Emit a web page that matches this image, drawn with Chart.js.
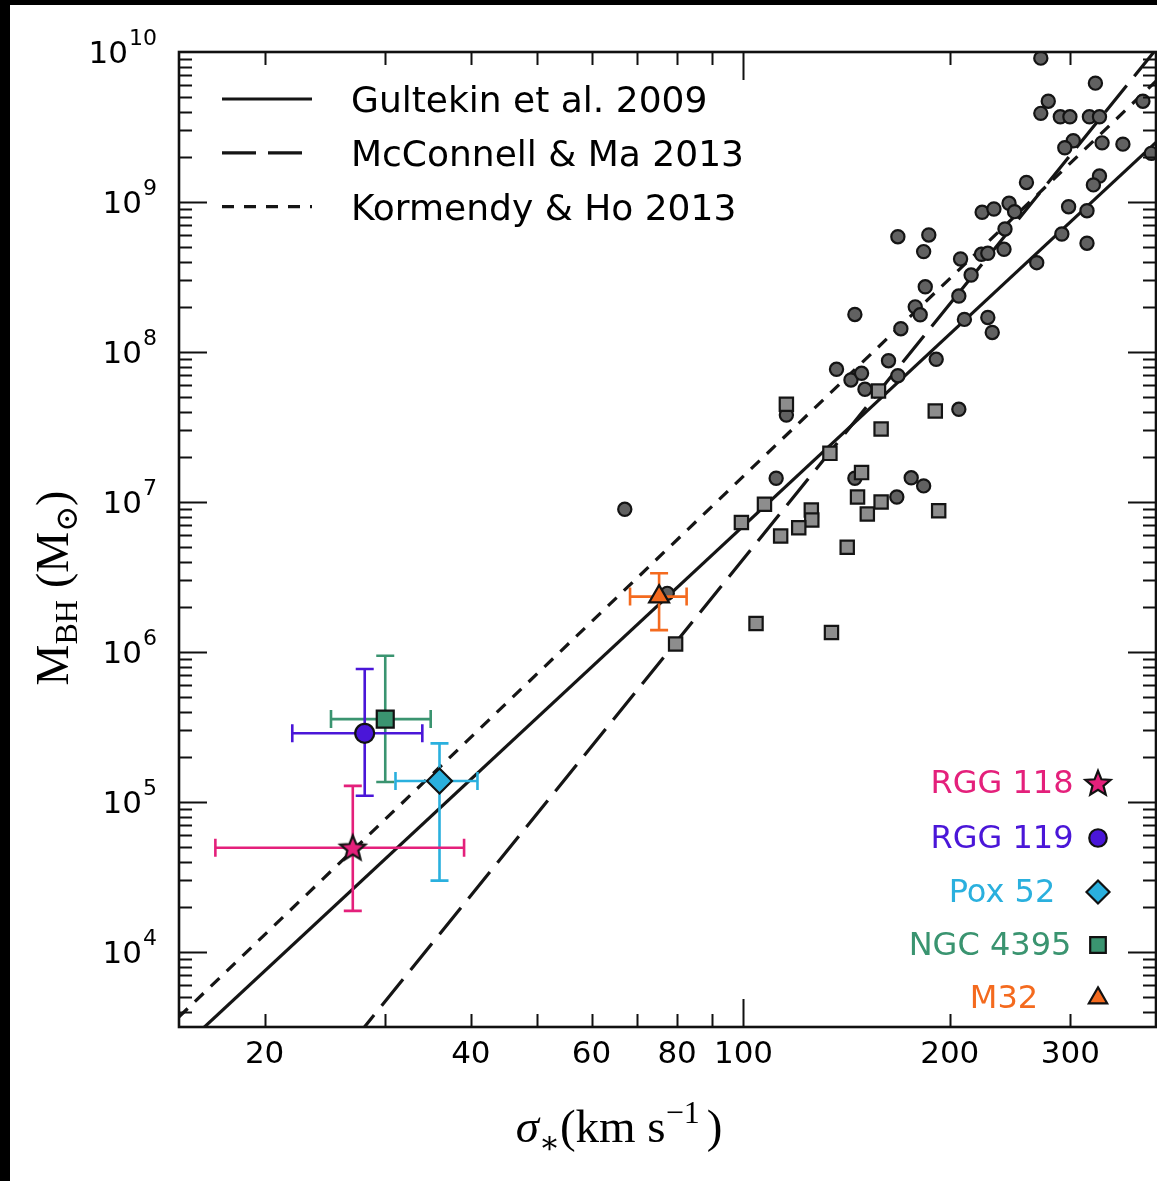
<!DOCTYPE html>
<html>
<head>
<meta charset="utf-8">
<script src="https://cdn.jsdelivr.net/npm/chart.js@4.4.1/dist/chart.umd.min.js"></script>
<style>
  html, body { margin: 0; padding: 0; background: #fff; }
</style>
</head>
<body>
<canvas id="msigma" width="1157" height="1181"></canvas>
<script>
// velocity dispersion (km/s) and black hole mass (Msun) of the comparison sample
const circleSigma = [271.6, 326.3, 278.5, 271.6, 290.0, 299.5, 319.8, 330.8, 382.8, 302.9,
  294.4, 333.7, 357.9, 393.7, 258.8, 330.8, 324.1, 298.2, 317.2, 223.0,
  232.0, 244.1, 248.7, 240.8, 291.5, 317.2, 168.0, 186.4, 183.2, 222.5,
  227.3, 240.0, 207.4, 214.9, 267.9, 184.2, 206.2, 178.1, 181.1, 145.4,
  169.7, 210.1, 227.3, 230.7, 162.8, 191.1, 136.7, 143.5, 148.7, 150.4,
  168.0, 206.2, 115.5, 111.6, 145.4, 175.7, 183.2, 167.4, 67.1, 77.4];
const circleMass = [9.1e9, 6.2e9, 4.7e9, 3.9e9, 3.7e9, 3.7e9, 3.7e9, 3.7e9, 4.7e9, 2.56e9,
  2.3e9, 2.48e9, 2.43e9, 2.11e9, 1.35e9, 1.49e9, 1.3e9, 9.3e8, 8.75e8, 8.54e8,
  8.98e8, 9.8e8, 8.62e8, 6.61e8, 6.12e8, 5.31e8, 5.87e8, 6.03e8, 4.67e8, 4.48e8,
  4.55e8, 4.84e8, 4.17e8, 3.26e8, 3.94e8, 2.72e8, 2.36e8, 2.0e8, 1.77e8, 1.78e8,
  1.43e8, 1.65e8, 1.7e8, 1.35e8, 8.75e7, 8.94e7, 7.67e7, 6.51e7, 7.21e7, 5.64e7,
  6.95e7, 4.15e7, 3.8e7, 1.44e7, 1.44e7, 1.45e7, 1.28e7, 1.08e7, 8.94e6, 2.46e6];

const squareSigma = [157.4, 190.5, 158.8, 115.5, 133.7, 107.3, 99.3, 148.7, 146.7, 158.8,
  151.6, 192.7, 125.6, 125.8, 120.4, 113.3, 141.7, 104.3, 134.4, 79.6];
const squareMass = [5.5e7, 4.04e7, 3.07e7, 4.48e7, 2.11e7, 9.66e6, 7.3e6, 1.57e7, 1.08e7, 1.0e7,
  8.32e6, 8.75e6, 8.85e6, 7.59e6, 6.74e6, 5.93e6, 4.99e6, 1.55e6, 1.35e6, 1.13e6];

// scaling relations, end points
const relNames = ['Gultekin et al. 2009', 'McConnell & Ma 2013', 'Kormendy & Ho 2013'];
const relSigma = [15, 400];
const gultekinMass = [2.2e3, 2.5e9];
const mcconnellMass = [9.4e1, 1.04e10];
const kormendyMass = [3.7e3, 6.4e9];

// dwarf galaxies with error bars
const objNames = ['RGG 118', 'RGG 119', 'Pox 52', 'NGC 4395', 'M32'];
const objSigma = [26.9, 28.0, 36.0, 30.0, 75.3];
const objSigmaLo = [16.95, 21.95, 31.05, 25.0, 68.3];
const objSigmaHi = [39.1, 33.98, 40.9, 34.95, 82.6];
const objMass = [4.96e4, 2.87e5, 1.38e5, 3.57e5, 2.34e6];
const objMassLo = [1.88e4, 1.10e5, 2.99e4, 1.36e5, 1.40e6];
const objMassHi = [1.28e5, 7.7e5, 2.46e5, 9.45e5, 3.35e6];
const objColors = ['#e4207b', '#4a16d8', '#2ab0de', '#3a9470', '#f46a1e'];

// axis ticks
const xTickLabels = [20, 40, 60, 80, 100, 200, 300];
const xMinorTicks = [20, 30, 40, 50, 60, 70, 80, 90, 200, 300, 400];
const xMajorTicks = [100];
const yTickExps = [4, 5, 6, 7, 8, 9, 10];

Chart.defaults.font.family = '"DejaVu Sans", sans-serif';

function makeStar(fill) {
  const c = document.createElement('canvas');
  c.width = 32; c.height = 32;
  const g = c.getContext('2d');
  g.beginPath();
  for (let k = 0; k < 10; k++) {
    const r = k % 2 ? 5.8 : 13.2;
    const a = -Math.PI / 2 + k * Math.PI / 5;
    g.lineTo(16 + r * Math.cos(a), 17 + r * Math.sin(a));
  }
  g.closePath();
  g.fillStyle = fill;
  g.fill();
  g.lineWidth = 2.2;
  g.strokeStyle = '#111';
  g.stroke();
  return c;
}

const objStyles = [
  { pointStyle: makeStar(objColors[0]), radius: 13 },
  { pointStyle: 'circle', radius: 9.5 },
  { pointStyle: 'rectRot', radius: 12.5 },
  { pointStyle: 'rect', radius: 12 },
  { pointStyle: 'triangle', radius: 11.5 }
];
const objOrder = [2, 3, 5, 6, 4];

function toPoints(xs, ys) {
  return xs.map((v, i) => ({ x: v, y: ys[i] }));
}

const datasets = [
  { label: relNames[0], data: toPoints(relSigma, gultekinMass), showLine: true, borderColor: '#151515',
    borderWidth: 3.2, pointRadius: 0, borderDash: [], order: 10, clip: 0 },
  { label: relNames[1], data: toPoints(relSigma, mcconnellMass), showLine: true, borderColor: '#151515',
    borderWidth: 3.2, pointRadius: 0, borderDash: [34, 12], order: 10, clip: 0 },
  { label: relNames[2], data: toPoints(relSigma, kormendyMass), showLine: true, borderColor: '#151515',
    borderWidth: 3.2, pointRadius: 0, borderDash: [12, 10], order: 10, clip: 0 },
  { label: 'circles', data: toPoints(circleSigma, circleMass), pointStyle: 'circle', pointRadius: 6.6,
    pointBackgroundColor: '#616161', pointBorderColor: '#141414', pointBorderWidth: 2.2, order: 8, clip: 0 },
  { label: 'squares', data: toPoints(squareSigma, squareMass), pointStyle: 'rect', pointRadius: 9.4,
    pointBackgroundColor: '#8d8d8d', pointBorderColor: '#141414', pointBorderWidth: 2.2, order: 7, clip: 0 }
];
objNames.forEach((name, i) => {
  datasets.push({
    label: name, objIndex: i,
    data: [{ x: objSigma[i], y: objMass[i] }],
    pointStyle: objStyles[i].pointStyle, pointRadius: objStyles[i].radius,
    pointBackgroundColor: objColors[i], pointBorderColor: '#111', pointBorderWidth: 2.2,
    order: objOrder[i], clip: false
  });
});

function drawPieces(ctx, pieces, cx, baseY) {
  let total = 0;
  pieces.forEach(p => { ctx.font = p.font; p.w = ctx.measureText(p.t).width + (p.gap || 0); total += p.w; });
  let x = cx - total / 2;
  pieces.forEach(p => {
    ctx.font = p.font;
    ctx.fillText(p.t, x, baseY + (p.dy || 0));
    x += p.w;
  });
}

const frame = {
  id: 'frame',
  beforeDraw(chart) {
    const ctx = chart.ctx;
    ctx.save();
    ctx.fillStyle = '#fff';
    ctx.fillRect(0, 0, chart.width, chart.height);
    ctx.fillStyle = '#000';
    ctx.fillRect(0, 0, 10, chart.height);
    ctx.fillRect(0, 0, chart.width, 5);
    ctx.restore();
  },
  beforeDatasetDraw(chart, args) {
    const ds = chart.data.datasets[args.index];
    if (ds.objIndex === undefined) return;
    const i = ds.objIndex;
    const xs = chart.scales.x, ys = chart.scales.y, ctx = chart.ctx;
    const cx = xs.getPixelForValue(objSigma[i]), cy = ys.getPixelForValue(objMass[i]);
    const x0 = xs.getPixelForValue(objSigmaLo[i]), x1 = xs.getPixelForValue(objSigmaHi[i]);
    const y0 = ys.getPixelForValue(objMassLo[i]), y1 = ys.getPixelForValue(objMassHi[i]);
    const cap = 9;
    ctx.save();
    ctx.strokeStyle = objColors[i];
    ctx.lineWidth = 2.6;
    ctx.beginPath();
    ctx.moveTo(x0, cy); ctx.lineTo(x1, cy);
    ctx.moveTo(cx, y0); ctx.lineTo(cx, y1);
    ctx.moveTo(x0, cy - cap); ctx.lineTo(x0, cy + cap);
    ctx.moveTo(x1, cy - cap); ctx.lineTo(x1, cy + cap);
    ctx.moveTo(cx - cap, y0); ctx.lineTo(cx + cap, y0);
    ctx.moveTo(cx - cap, y1); ctx.lineTo(cx + cap, y1);
    ctx.stroke();
    ctx.restore();
  },
  afterDraw(chart) {
    const ctx = chart.ctx;
    const { left, right, top, bottom } = chart.chartArea;
    const xs = chart.scales.x, ys = chart.scales.y;
    ctx.save();

    // tick marks on all four sides, pointing inwards
    ctx.strokeStyle = '#111';
    ctx.lineWidth = 2;
    ctx.beginPath();
    const vTick = (v, len) => {
      const px = Math.round(xs.getPixelForValue(v)) + 0.5;
      ctx.moveTo(px, bottom); ctx.lineTo(px, bottom - len);
      ctx.moveTo(px, top); ctx.lineTo(px, top + len);
    };
    xMinorTicks.forEach(v => vTick(v, 13));
    xMajorTicks.forEach(v => vTick(v, 28));
    for (let e = 3; e <= 9; e++) {
      for (let k = 1; k <= 9; k++) {
        const v = k * Math.pow(10, e);
        if (v < ys.min || v > ys.max) continue;
        const len = k === 1 ? 28 : 13;
        const py = Math.round(ys.getPixelForValue(v)) + 0.5;
        ctx.moveTo(left, py); ctx.lineTo(left + len, py);
        ctx.moveTo(right, py); ctx.lineTo(right - len, py);
      }
    }
    ctx.stroke();

    // axes box
    ctx.lineWidth = 2.6;
    ctx.strokeRect(left, top, right - left, bottom - top);

    // y tick labels 10^n
    ctx.fillStyle = '#000';
    ctx.textBaseline = 'alphabetic';
    ctx.textAlign = 'left';
    yTickExps.forEach(e => {
      const py = ys.getPixelForValue(Math.pow(10, e));
      ctx.font = '31px "DejaVu Sans"';
      const bw = ctx.measureText('10').width;
      ctx.font = '22px "DejaVu Sans"';
      const sw = ctx.measureText(String(e)).width;
      const x0 = 157 - sw - bw - 1;
      ctx.font = '31px "DejaVu Sans"';
      ctx.fillText('10', x0, py + 11.3);
      ctx.font = '22px "DejaVu Sans"';
      ctx.fillText(String(e), x0 + bw + 1, py - 7);
    });

    // axis titles
    const serif = '"Liberation Serif", "DejaVu Serif", serif';
    drawPieces(ctx, [
      { t: 'σ', font: 'italic 47px ' + serif },
      { t: '∗', font: '31px "DejaVu Serif"', dy: 11 },
      { t: '(km s', font: '47px ' + serif },
      { t: '−1', font: '32px ' + serif, dy: -19, gap: 7 },
      { t: ')', font: '47px ' + serif }
    ], 619, 1142);

    ctx.save();
    ctx.translate(68, 588);
    ctx.rotate(-Math.PI / 2);
    drawPieces(ctx, [
      { t: 'M', font: '46px ' + serif },
      { t: 'BH', font: '32px ' + serif, dy: 9, gap: 12 },
      { t: '(M', font: '46px ' + serif },
      { t: '⊙', font: '31px "DejaVu Serif"', dy: 9 },
      { t: ')', font: '46px ' + serif }
    ], 0, 0);
    ctx.restore();

    // legend of the scaling relations
    chart.data.datasets.slice(0, 3).forEach((ds, i) => {
      const y = 99 + i * 53.8;
      ctx.strokeStyle = ds.borderColor;
      ctx.lineWidth = ds.borderWidth;
      ctx.setLineDash(ds.borderDash);
      ctx.beginPath();
      ctx.moveTo(222, y); ctx.lineTo(312, y);
      ctx.stroke();
      ctx.setLineDash([]);
      ctx.fillStyle = '#000';
      ctx.font = '36px "DejaVu Sans"';
      ctx.textAlign = 'left';
      ctx.fillText(ds.label, 351, y + 13);
    });

    // legend of the individual objects
    const rowY = [781, 836, 890, 943, 996];
    const textX = [1002, 1002, 1002, 990, 1004];
    objNames.forEach((name, i) => {
      ctx.fillStyle = objColors[i];
      ctx.font = '32px "DejaVu Sans"';
      ctx.textAlign = 'center';
      ctx.fillText(name, textX[i], rowY[i] + 11.7);
      ctx.strokeStyle = '#111';
      ctx.lineWidth = 2.2;
      Chart.helpers.drawPoint(ctx, {
        pointStyle: objStyles[i].pointStyle, radius: objStyles[i].radius * 0.92,
        rotation: 0, borderWidth: 2.2
      }, 1098, rowY[i] + 2);
    });
    ctx.restore();
  }
};

new Chart(document.getElementById('msigma'), {
  type: 'scatter',
  data: { datasets },
  plugins: [frame],
  options: {
    responsive: false,
    animation: false,
    events: [],
    layout: { autoPadding: false, padding: { left: 0, top: 52, right: 1, bottom: 0 } },
    plugins: { legend: { display: false }, tooltip: { enabled: false } },
    scales: {
      x: {
        type: 'logarithmic', min: 15, max: 400,
        afterBuildTicks: (s) => { s.ticks = xTickLabels.map(v => ({ value: v })); },
        afterFit: (s) => { s.height = 154; },
        grid: { display: false, drawTicks: false },
        border: { display: false },
        ticks: { autoSkip: false, maxRotation: 0, padding: 9, color: '#000', font: { size: 31 },
          callback: (v) => String(v) }
      },
      y: {
        type: 'logarithmic', min: Math.pow(10, 3.5), max: 1e10,
        afterBuildTicks: (s) => { s.ticks = yTickExps.map(e => ({ value: Math.pow(10, e) })); },
        afterFit: (s) => { s.width = 179; },
        grid: { display: false, drawTicks: false },
        border: { display: false },
        ticks: { display: false }
      }
    }
  }
});
</script>
</body>
</html>
